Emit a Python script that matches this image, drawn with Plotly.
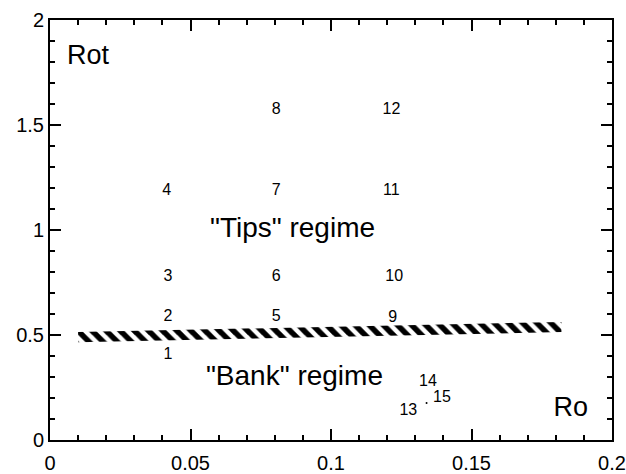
import plotly.graph_objects as go

# Case labels and their (Ro, Rot) positions
case_labels = ["1", "2", "3", "4", "5", "6", "7", "8", "9", "10", "11", "12", "13", "14", "15"]
case_ro = [0.042, 0.042, 0.042, 0.0415, 0.0805, 0.0805, 0.0805, 0.0805, 0.122, 0.1225, 0.1215, 0.1215, 0.1275, 0.1345, 0.1395]
case_rot = [0.403, 0.586, 0.778, 1.188, 0.586, 0.778, 1.188, 1.573, 0.581, 0.778, 1.188, 1.573, 0.136, 0.278, 0.198]

# Transition band (hatched)
band_x = [0.01, 0.182]
band_y_low = [0.466, 0.514]
band_y_high = [0.514, 0.562]

# Small dot near case 15
dot_ro = [0.134]
dot_rot = [0.176]

# Text labels
regime_text = ['"Tips" regime', '"Bank" regime']
regime_x = [0.0863, 0.087]
regime_y = [1.0, 0.295]

axis_text = ["Rot", "Ro"]
axis_text_x = [0.0135, 0.1853]
axis_text_y = [1.822, 0.145]

x_ticks = [0, 0.05, 0.1, 0.15, 0.2]
x_tick_labels = ["0", "0.05", "0.1", "0.15", "0.2"]
y_ticks = [0, 0.5, 1, 1.5, 2]
y_tick_labels = ["0", "0.5", "1", "1.5", "2"]

FONT = "Liberation Sans, Arial, Helvetica, sans-serif"

fig = go.Figure()

poly_x = band_x + band_x[::-1] + [band_x[0]]
poly_y = band_y_low + band_y_high[::-1] + [band_y_low[0]]
fig.add_trace(go.Scatter(
    x=poly_x, y=poly_y, mode="lines", fill="toself",
    line=dict(width=0, color="rgba(0,0,0,0)"),
    fillcolor="white",
    fillpattern=dict(shape="\\", fgcolor="black", bgcolor="white", fgopacity=1,
                     size=10, solidity=0.55),
    hoverinfo="skip", showlegend=False,
))

fig.add_trace(go.Scatter(
    x=case_ro, y=case_rot, mode="text", text=case_labels,
    textfont=dict(family=FONT, size=16, color="black"),
    showlegend=False,
))

fig.add_trace(go.Scatter(
    x=dot_ro, y=dot_rot, mode="markers",
    marker=dict(size=2, color="black"), showlegend=False,
))

fig.add_trace(go.Scatter(
    x=regime_x, y=regime_y, mode="text", text=regime_text,
    textfont=dict(family=FONT, size=28, color="black"),
    showlegend=False,
))

fig.add_trace(go.Scatter(
    x=axis_text_x, y=axis_text_y, mode="text", text=axis_text,
    textfont=dict(family=FONT, size=27, color="black"),
    showlegend=False,
))

axis_common = dict(
    showgrid=False, zeroline=False, showline=True, linecolor="black", linewidth=2,
    mirror="allticks", ticks="inside", ticklen=11, tickwidth=1.5, tickcolor="black",
    tickfont=dict(family=FONT, size=20, color="black"), automargin=False,
)

fig.update_xaxes(
    range=[0, 0.2], tickvals=x_ticks, ticktext=x_tick_labels, ticklabelstandoff=4,
    minor=dict(dtick=0.01, ticks="inside", ticklen=5, tickwidth=1.5, tickcolor="black", showgrid=False),
    **axis_common,
)
fig.update_yaxes(
    range=[0, 2], tickvals=y_ticks, ticktext=y_tick_labels,
    minor=dict(dtick=0.1, ticks="inside", ticklen=5, tickwidth=1.5, tickcolor="black", showgrid=False),
    **axis_common,
)

fig.update_layout(
    width=626, height=474,
    margin=dict(l=50, r=14, t=20, b=34),
    paper_bgcolor="white", plot_bgcolor="white",
    showlegend=False,
)

fig.write_html(
    "out.html",
    config={"displayModeBar": False},
    post_script="document.body.style.margin='0';document.body.style.overflow='hidden';",
)
